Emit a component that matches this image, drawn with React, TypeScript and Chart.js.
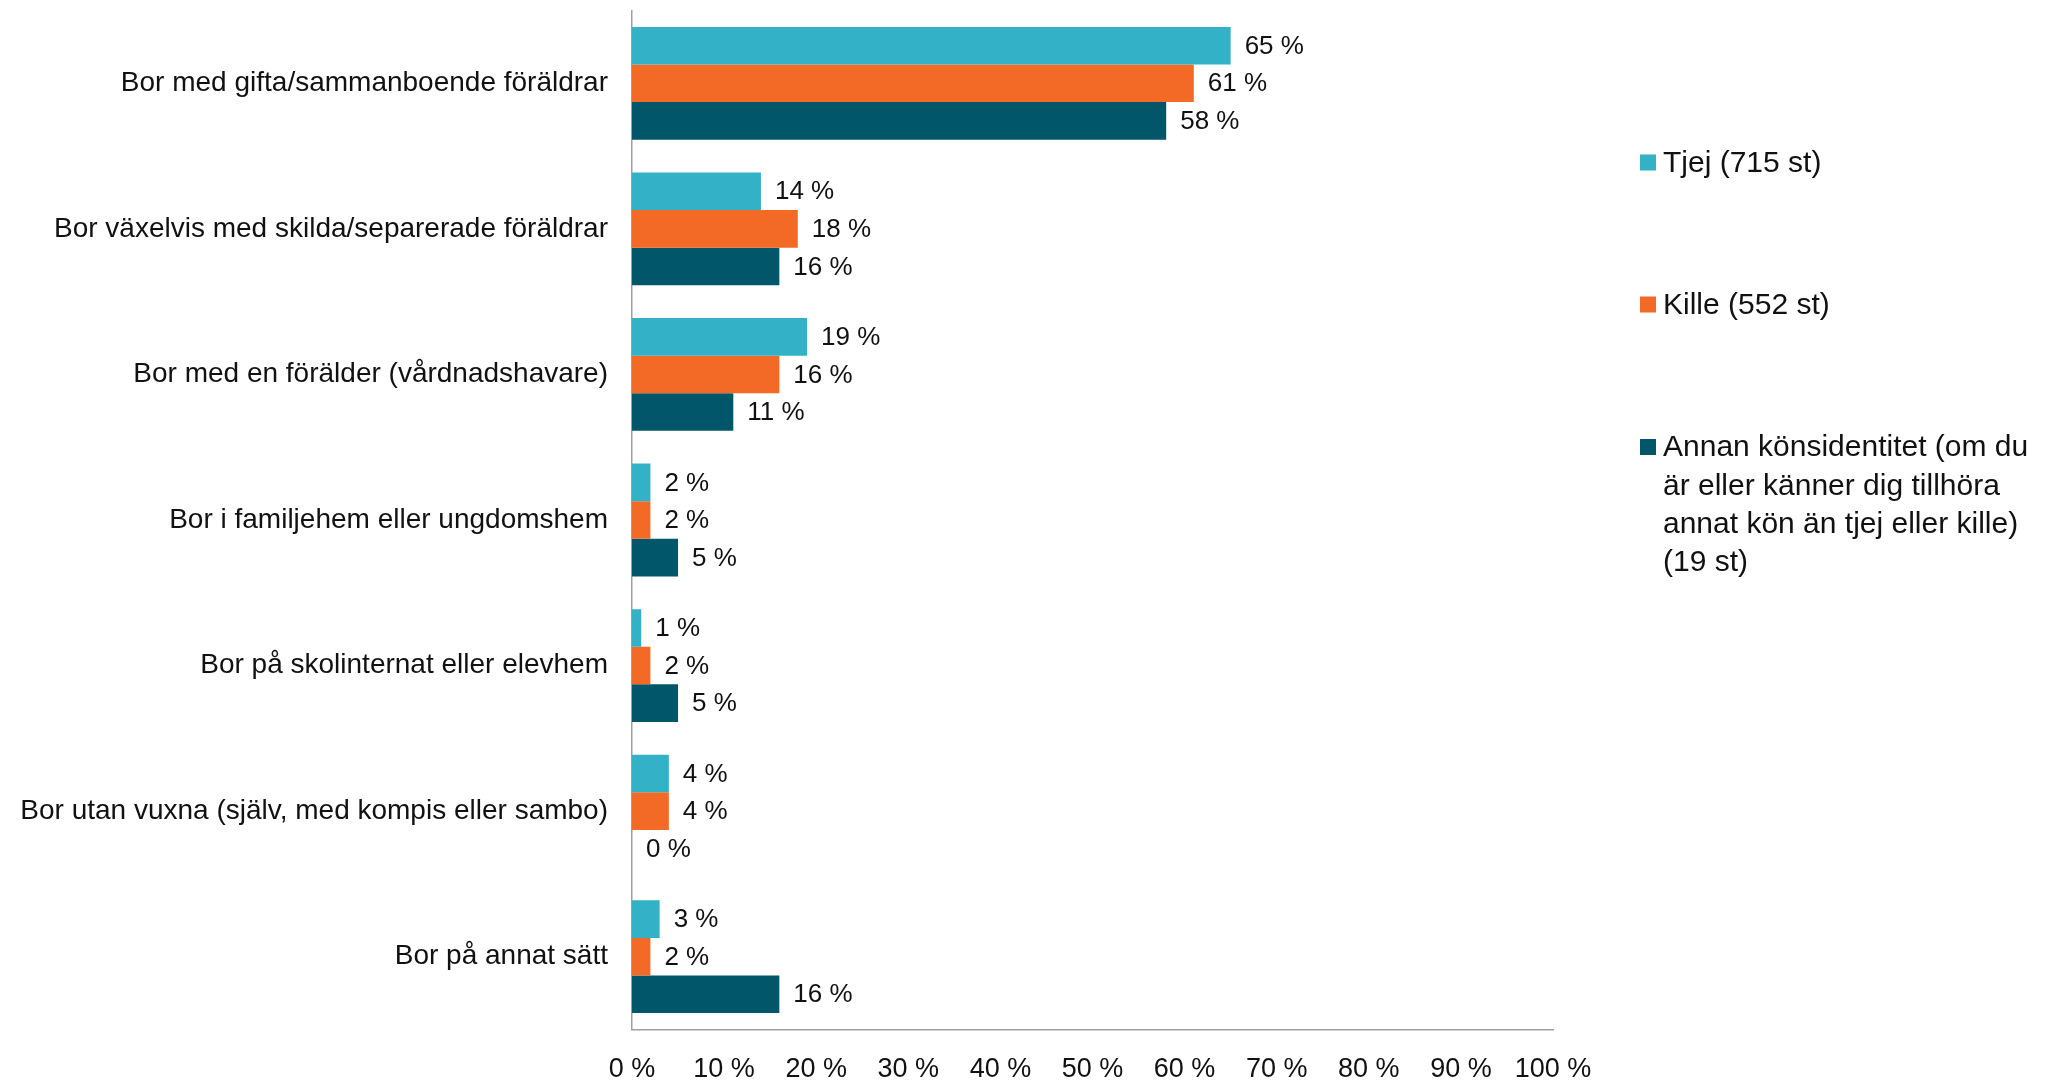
import React, { useEffect, useRef } from "react";
import { Chart, registerables } from "chart.js";

Chart.register(...registerables);

const categories = [
  "Bor med gifta/sammanboende föräldrar",
  "Bor växelvis med skilda/separerade föräldrar",
  "Bor med en förälder (vårdnadshavare)",
  "Bor i familjehem eller ungdomshem",
  "Bor på skolinternat eller elevhem",
  "Bor utan vuxna (själv, med kompis eller sambo)",
  "Bor på annat sätt",
];

const tjejValues = [65, 14, 19, 2, 1, 4, 3];
const killeValues = [61, 18, 16, 2, 2, 4, 2];
const annanValues = [58, 16, 11, 5, 5, 0, 16];

const seriesLabels = ["Tjej (715 st)", "Kille (552 st)", "Annan könsidentitet (om du är eller känner dig tillhöra annat kön än tjej eller kille) (19 st)"];
const legendLines = [
  ["Tjej (715 st)"],
  ["Kille (552 st)"],
  ["Annan könsidentitet (om du", "är eller känner dig tillhöra", "annat kön än tjej eller kille)", "(19 st)"],
];
const seriesColors = ["#33B1C7", "#F26A25", "#02566A"];

const FONT = "'Liberation Sans', Arial, Helvetica, sans-serif";
const TEXT = "#111111";

const valueLabels = {
  id: "valueLabels",
  afterDatasetsDraw(chart: any) {
    const ctx = chart.ctx;
    ctx.save();
    ctx.font = `26px ${FONT}`;
    ctx.fillStyle = TEXT;
    ctx.textAlign = "left";
    ctx.textBaseline = "middle";
    chart.data.datasets.forEach((ds: any, i: number) => {
      const meta = chart.getDatasetMeta(i);
      meta.data.forEach((bar: any, j: number) => {
        const v = ds.data[j];
        ctx.fillText(`${v} %`, bar.x + 14, bar.y + 1);
      });
    });
    ctx.restore();
  },
};

const sideLegend = {
  id: "sideLegend",
  afterDraw(chart: any) {
    const ctx = chart.ctx;
    ctx.save();
    ctx.font = `30px ${FONT}`;
    ctx.textAlign = "left";
    ctx.textBaseline = "middle";
    const centers = [162.5, 304.5, 447];
    const lineH = 38.3;
    legendLines.forEach((lines, i) => {
      const cy = centers[i];
      ctx.fillStyle = seriesColors[i];
      ctx.fillRect(1640, cy - 8, 16, 16);
      ctx.fillStyle = TEXT;
      lines.forEach((ln, k) => {
        ctx.fillText(ln, 1663, cy + k * lineH + 1);
      });
    });
    ctx.restore();
  },
};

export default function App() {
  const ref = useRef<HTMLCanvasElement | null>(null);
  useEffect(() => {
    if (!ref.current) return;
    const values = [tjejValues, killeValues, annanValues];
    const chart = new Chart(ref.current, {
      type: "bar",
      data: {
        labels: categories,
        datasets: values.map((d, i) => ({
          label: seriesLabels[i],
          data: d,
          backgroundColor: seriesColors[i],
          borderWidth: 0,
          barPercentage: 1,
          categoryPercentage: 0.775,
        })),
      },
      options: {
        indexAxis: "y",
        responsive: false,
        animation: false,
        layout: { padding: { top: 10.5, right: 506, bottom: 0, left: 0 } },
        plugins: { legend: { display: false }, tooltip: { enabled: false } },
        scales: {
          x: {
            min: 0,
            max: 100,
            ticks: {
              stepSize: 10,
              callback: (v: any) => `${v} %`,
              font: { family: FONT, size: 27 },
              color: TEXT,
              padding: 24,
              maxRotation: 0,
              autoSkip: false,
            },
            grid: { display: false, drawTicks: false },
            border: { display: true, color: "#a0a0a0", width: 1.5 },
            afterFit: (s: any) => {
              s.height = 51.5;
            },
          },
          y: {
            ticks: {
              font: { family: FONT, size: 28 },
              color: TEXT,
              padding: 24,
              autoSkip: false,
            },
            grid: { display: false, drawTicks: false },
            border: { display: true, color: "#a0a0a0", width: 1.5 },
            afterFit: (s: any) => {
              s.width = 632;
              s.paddingTop = 0;
              s.paddingBottom = 0;
            },
          },
        },
      } as any,
      plugins: [valueLabels, sideLegend],
    });
    return () => chart.destroy();
  }, []);
  return (
    <div style={{ position: "absolute", left: 0, top: 0, width: 2059, height: 1081, background: "#fff" }}>
      <canvas ref={ref} width={2059} height={1081} style={{ display: "block", width: 2059, height: 1081 }} />
    </div>
  );
}
